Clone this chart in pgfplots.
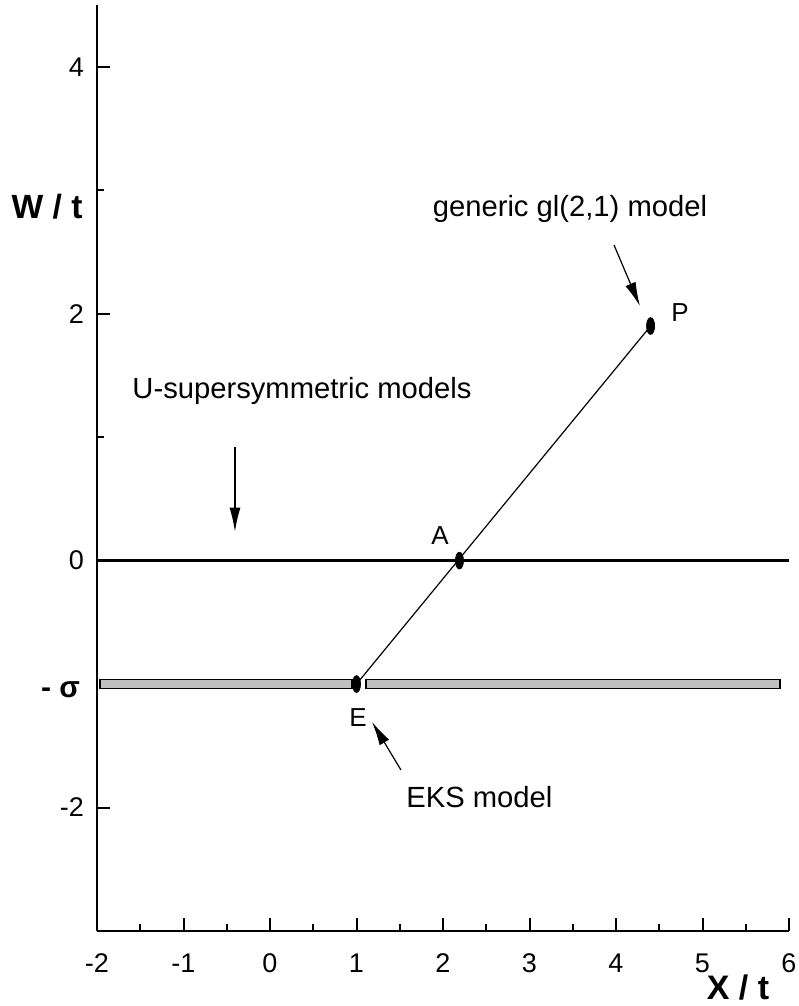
\documentclass[border=0pt]{standalone}
\usepackage{fontspec}
\setmainfont{Liberation Sans}
\usepackage{pgfplots}
\pgfplotsset{compat=1.18}
\usetikzlibrary{arrows.meta}
\definecolor{bargray}{RGB}{192,192,192}
\begin{document}
\begin{tikzpicture}
\useasboundingbox (-48.5pt,-37.5pt) rectangle (350.5pt,465.5pt);
\begin{axis}[
  at={(0,0)}, anchor=south west,
  scale only axis,
  width=346pt, height=463pt,
  xmin=-2, xmax=6, ymin=-3, ymax=4.5,
  axis x line*=bottom, axis y line*=left,
  axis line style={line width=1.3pt, -},
  xtick={-2,-1,...,6}, minor x tick num=1,
  ytick={-2,0,2,4}, minor ytick={-3,1,3},
  extra y ticks={-1}, extra y tick labels={\textbf{\fontsize{15}{17}\selectfont - σ}},
  extra y tick style={major tick length=0pt, yticklabel style={yshift=-3pt, xshift=-2pt}},
  tick align=inside,
  major tick length=6.5pt, minor tick length=3.5pt,
  every tick/.style={line width=1pt, black},
  tick label style={font=\fontsize{13.5}{15}\selectfont},
  /pgf/number format/assume math mode=true,
  xticklabel style={yshift=-8pt},
  yticklabel style={xshift=-3pt},
  clip=false,
]
% gray bar (EKS line), two segments
\addplot[fill=bargray, draw=black, line width=0.8pt] coordinates {(-1.965,-1.0365) (0.948,-1.0365) (0.948,-0.9635) (-1.965,-0.9635)} -- cycle;
\addplot[fill=bargray, draw=black, line width=0.8pt] coordinates {(1.110,-1.0365) (5.896,-1.0365) (5.896,-0.9635) (1.110,-0.9635)} -- cycle;
% U-supersymmetric line W=0
\addplot[black, line width=1.5pt] coordinates {(-2,0) (6,0)};
% generic line E-P
\addplot[black, line width=0.6pt] coordinates {(1,-1) (4.4,1.9)};
% points
\addplot[only marks, mark=*, mark size=2pt, mark options={fill=black, draw=black, yscale=2.1}] coordinates {(1,-1) (2.19,0) (4.4,1.9)};
% arrows
\addplot[black, line width=0.6pt, -{Latex[length=12pt,width=5.5pt]}] coordinates {(3.977,2.556) (4.277,2.061)};
\addplot[black, line width=0.6pt, -{Latex[length=12pt,width=5.5pt]}] coordinates {(-0.405,0.917) (-0.405,0.235)};
\addplot[black, line width=0.6pt, -{Latex[length=12pt,width=5.5pt]}] coordinates {(1.514,-1.696) (1.179,-1.306)};
% texts
\node[font=\fontsize{14.6}{17}\selectfont] at (axis cs:3.468,2.848) {generic gl(2,1) model};
\node[font=\fontsize{13}{15}\selectfont] at (axis cs:4.74,2.012) {P};
\node[font=\fontsize{14.6}{17}\selectfont] at (axis cs:0.370,1.371) {U-supersymmetric models};
\node[font=\fontsize{13}{15}\selectfont] at (axis cs:1.965,0.203) {A};
\node[font=\fontsize{13}{15}\selectfont] at (axis cs:1.017,-1.274) {E};
\node[font=\fontsize{14.6}{17}\selectfont, anchor=west, inner sep=0pt] at (axis cs:1.572,-1.915) {EKS model};
\node[font=\bfseries\fontsize{16.8}{19}\selectfont] at (axis cs:-2,2.864) [xshift=-25pt] {W / t};
\node[font=\bfseries\fontsize{17}{19}\selectfont, inner sep=0pt] at (axis cs:5.41,-3) [yshift=-28.5pt] {X / t};
\end{axis}
\end{tikzpicture}
\end{document}
